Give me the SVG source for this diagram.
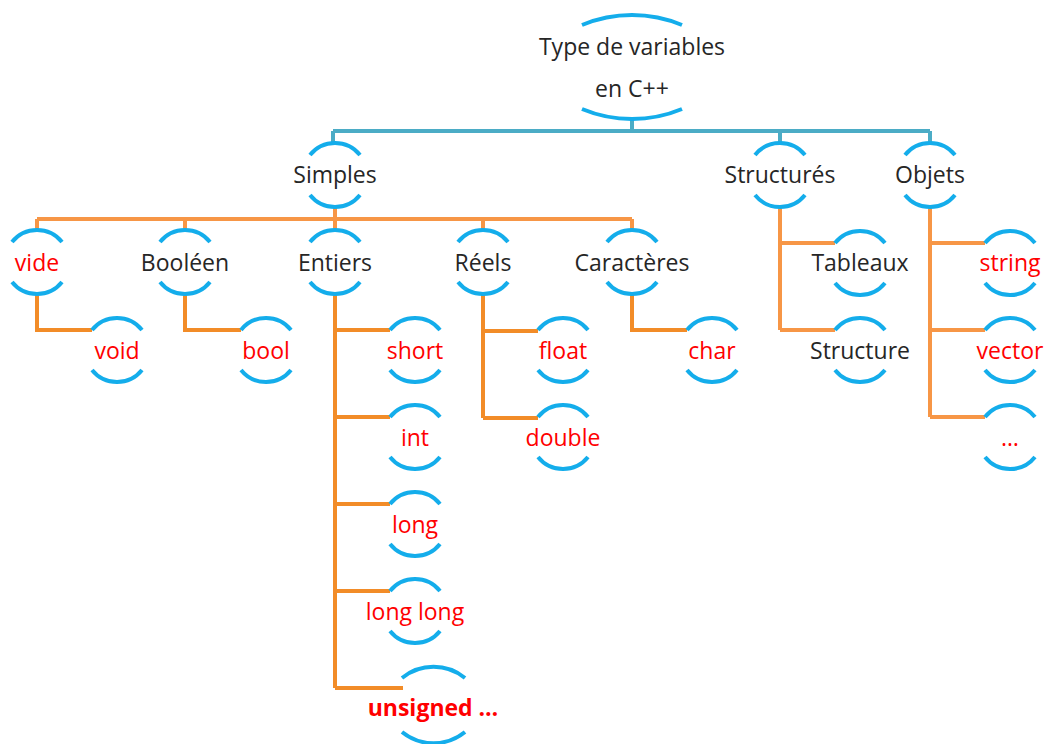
<svg xmlns="http://www.w3.org/2000/svg" xmlns:xlink="http://www.w3.org/1999/xlink" width="1047" height="744" viewBox="0 0 1047 744">
  <style>
    .arc { fill: none; stroke: #14ADEB; stroke-width: 4; stroke-linecap: butt; }
    .lbl { font-family: "Open Sans", "Liberation Sans", sans-serif; font-size: 23px; text-anchor: middle; }
    .dark { fill: #262626; }
    .red { fill: #FF0000; }
    .bold { font-weight: bold; }
    .blue { fill: none; stroke: #4BACC6; stroke-width: 4; }
    .or1 { fill: none; stroke: #F79646; stroke-width: 4; }
    .or2 { fill: none; stroke: #F28C28; stroke-width: 4; }
  </style>
  <defs>
    <!-- standard node: two circular brackets above and below the label -->
    <g id="bracket">
      <path class="arc" d="M-25,-20 A32,32 0 0 1 25,-20"/>
      <path class="arc" d="M-25,20 A32,32 0 0 0 25,20"/>
    </g>
  </defs>
  <rect width="1047" height="744" fill="#FFFFFF"/>

  <!-- connectors -->
  <g id="connectors">
    <path class="blue" d="M632,118 V131 M333,131 H930 M333,131 V145 M780,131 V145 M930,131 V145"/>
    <path class="or1" d="M335,207 V219 M37,219 H632 M37,219 V231 M185,219 V231 M335,219 V231 M483,219 V231 M632,219 V231"/>
    <path class="or2" d="M37,294 V330 H92"/>
    <path class="or2" d="M185,294 V330 H241"/>
    <path class="or2" d="M335,294 V688 M335,330 H390 M335,417 H390 M335,504 H390 M335,591 H390 M335,688 H403"/>
    <path class="or2" d="M483,294 V418 M483,331 H538 M483,418 H538"/>
    <path class="or2" d="M632,294 V330 H687"/>
    <path class="or1" d="M780,207 V330 M780,243 H835 M780,330 H835"/>
    <path class="or1" d="M930,207 V417 M930,243 H985 M930,330 H985 M930,417 H985"/>
  </g>

  <!-- root -->
  <g id="root">
    <path class="arc" d="M582,25 A130,130 0 0 1 682,25"/>
    <path class="arc" d="M582,109 A130,130 0 0 0 682,109"/>
    <text class="lbl dark" x="632" y="55">Type de variables</text>
    <text class="lbl dark" x="632" y="97">en C++</text>
  </g>

  <!-- first level -->
  <g id="simples"><use xlink:href="#bracket" x="335" y="175"/><text class="lbl dark" x="335" y="183">Simples</text></g>
  <g id="structures"><use xlink:href="#bracket" x="780" y="175"/><text class="lbl dark" x="780" y="183">Structurés</text></g>
  <g id="objets"><use xlink:href="#bracket" x="930" y="175"/><text class="lbl dark" x="930" y="183">Objets</text></g>

  <!-- simple type families -->
  <g id="vide"><use xlink:href="#bracket" x="37" y="262"/><text class="lbl red" x="37" y="271">vide</text></g>
  <g id="booleen"><use xlink:href="#bracket" x="185" y="262"/><text class="lbl dark" x="185" y="271">Booléen</text></g>
  <g id="entiers"><use xlink:href="#bracket" x="335" y="262"/><text class="lbl dark" x="335" y="271">Entiers</text></g>
  <g id="reels"><use xlink:href="#bracket" x="483" y="262"/><text class="lbl dark" x="483" y="271">Réels</text></g>
  <g id="caracteres"><use xlink:href="#bracket" x="632" y="262"/><text class="lbl dark" x="632" y="271">Caractères</text></g>

  <!-- concrete C++ types -->
  <g id="void"><use xlink:href="#bracket" x="117" y="350"/><text class="lbl red" x="117" y="359">void</text></g>
  <g id="bool"><use xlink:href="#bracket" x="266" y="350"/><text class="lbl red" x="266" y="359">bool</text></g>
  <g id="short"><use xlink:href="#bracket" x="415" y="350"/><text class="lbl red" x="415" y="359">short</text></g>
  <g id="int"><use xlink:href="#bracket" x="415" y="437"/><text class="lbl red" x="415" y="446">int</text></g>
  <g id="long"><use xlink:href="#bracket" x="415" y="524"/><text class="lbl red" x="415" y="533">long</text></g>
  <g id="longlong"><use xlink:href="#bracket" x="415" y="611"/><text class="lbl red" x="415" y="620">long long</text></g>
  <g id="unsigned">
    <path class="arc" d="M402,678 A50,50 0 0 1 465,678"/>
    <path class="arc" d="M402,732 A50,50 0 0 0 465,732"/>
    <text class="lbl red bold" x="433" y="716">unsigned …</text>
  </g>
  <g id="float"><use xlink:href="#bracket" x="563" y="350"/><text class="lbl red" x="563" y="359">float</text></g>
  <g id="double"><use xlink:href="#bracket" x="563" y="437"/><text class="lbl red" x="563" y="446">double</text></g>
  <g id="char"><use xlink:href="#bracket" x="712" y="350"/><text class="lbl red" x="712" y="359">char</text></g>

  <!-- structured types -->
  <g id="tableaux"><use xlink:href="#bracket" x="860" y="263"/><text class="lbl dark" x="860" y="271">Tableaux</text></g>
  <g id="structure"><use xlink:href="#bracket" x="860" y="350"/><text class="lbl dark" x="860" y="359">Structure</text></g>

  <!-- object types -->
  <g id="string"><use xlink:href="#bracket" x="1010" y="263"/><text class="lbl red" x="1010" y="271">string</text></g>
  <g id="vector"><use xlink:href="#bracket" x="1010" y="350"/><text class="lbl red" x="1010" y="359">vector</text></g>
  <g id="autres"><use xlink:href="#bracket" x="1010" y="437"/><text class="lbl red" x="1010" y="446">…</text></g>
</svg>
